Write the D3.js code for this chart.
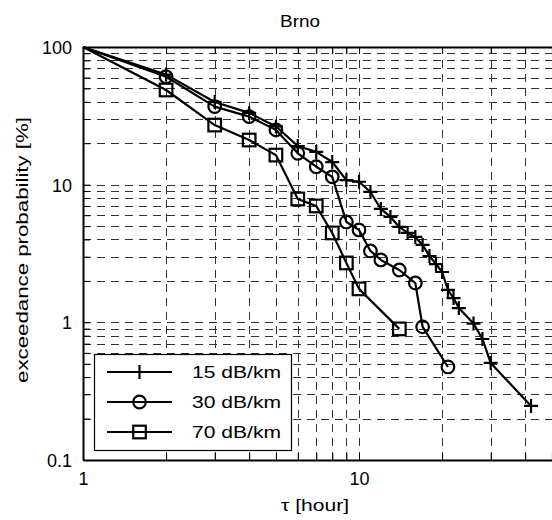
<!DOCTYPE html>
<html>
<head>
<meta charset="utf-8">
<script src="https://cdn.jsdelivr.net/npm/d3@7"></script>
<style>
  body { margin: 0; background: #fff; }
  svg text { font-family: "Liberation Sans", Arial, sans-serif; fill: #000; }
</style>
</head>
<body>
<svg id="chart" width="552" height="520"></svg>
<script>
// values (tau in hours, exceedance probability in %)
var tau15 = [1, 2, 3, 4, 5, 6, 7, 8, 9, 10, 11, 12, 13, 14, 15, 16, 17, 18, 19, 20, 21, 22, 23, 26, 28, 30, 42];
var p15 = [100, 63, 39.9, 33.2, 26.5, 19.1, 17.3, 14.6, 10.8, 10.5, 8.85, 6.66, 5.83, 4.93, 4.46, 4.17, 3.65, 3.03, 2.65, 2.32, 1.72, 1.5, 1.27, 0.98, 0.757, 0.507, 0.247];
var tau30 = [1, 2, 3, 4, 5, 6, 7, 8, 9, 10, 11, 12, 14, 16, 17, 21];
var p30 = [100, 60.8, 36.9, 31.2, 25, 16.9, 13.5, 11.4, 5.36, 4.69, 3.3, 2.84, 2.4, 1.93, 0.927, 0.474];
var tau70 = [1, 2, 3, 4, 5, 6, 7, 8, 9, 10, 14];
var p70 = [100, 48.7, 27.1, 21.1, 16.4, 7.87, 7.0, 4.46, 2.7, 1.75, 0.896];

var seriesNames = ["15 dB/km", "30 dB/km", "70 dB/km"];
var seriesMarkers = ["plus", "circle", "square"];
var xMajor = [1, 10];
var yMajor = [0.1, 1, 10, 100];
var title = "Brno";
var xLabel = "\u03c4 [hour]";
var yLabel = "exceedance probability [%]";

var svg = d3.select("#chart");
var mLeft = 83, mTop = 47, mBottom = 460, mRight = 635;

var x = d3.scaleLog().domain([1, 100]).range([mLeft, mRight]);
var y = d3.scaleLog().domain([0.1, 100]).range([mBottom, mTop]);

// all decade subdivisions 1..9 x 10^k
function logTicks(lo, hi) {
  var out = [];
  for (var e = Math.log10(lo); e < Math.log10(hi); e++) {
    for (var m = 1; m < 10; m++) out.push(m * Math.pow(10, e));
  }
  out.push(hi);
  return out.map(function(v) { return +v.toPrecision(6); });
}
var xTicks = logTicks(1, 100);
var yTicks = logTicks(0.1, 100);

// dashed grid at every tick
var grid = svg.append("g").attr("class", "grid")
  .attr("stroke", "#333").attr("stroke-width", 1).attr("stroke-dasharray", "8,6");
grid.selectAll("line.gx").data(xTicks.slice(1)).enter().append("line")
  .attr("x1", function(d) { return Math.round(x(d)) + 0.5; })
  .attr("x2", function(d) { return Math.round(x(d)) + 0.5; })
  .attr("y1", mBottom).attr("y2", mTop);
grid.selectAll("line.gy").data(yTicks.slice(1, -1)).enter().append("line")
  .attr("y1", function(d) { return Math.round(y(d)) + 0.5; })
  .attr("y2", function(d) { return Math.round(y(d)) + 0.5; })
  .attr("x1", mLeft).attr("x2", mRight);

// axes with inward ticks, MATLAB style
var xAxis = d3.axisBottom(x).tickValues(xTicks).tickSizeInner(-7).tickSizeOuter(0)
  .tickPadding(14).tickFormat(function(d) { return xMajor.indexOf(d) >= 0 ? d3.format("~g")(d) : ""; });
var gx = svg.append("g").attr("transform", "translate(0," + mBottom + ")").call(xAxis);
var xTop = d3.axisTop(x).tickValues(xTicks).tickSizeInner(-7).tickSizeOuter(0).tickFormat("");
var gxt = svg.append("g").attr("transform", "translate(0," + mTop + ")").call(xTop);

var yAxis = d3.axisLeft(y).tickValues(yTicks).tickSizeInner(-7).tickSizeOuter(0)
  .tickPadding(11).tickFormat(function(d) { return yMajor.indexOf(d) >= 0 ? d3.format("~g")(d) : ""; });
var gy = svg.append("g").attr("transform", "translate(" + mLeft + ",0)").call(yAxis);

[gx, gxt, gy].forEach(function(g) {
  g.select(".domain").attr("stroke", "#000").attr("stroke-width", 2);
  g.selectAll(".tick line").attr("stroke", "#000").attr("stroke-width", 1);
  g.selectAll(".tick text").attr("font-size", 18).style("font-family", "Liberation Sans, Arial, sans-serif");
});
gx.selectAll(".tick text").attr("dy", "0.6em");
gy.selectAll(".tick text").attr("dy", "0.36em");

// series
var series = [
  {tau: tau15, p: p15},
  {tau: tau30, p: p30},
  {tau: tau70, p: p70}
];
var line = d3.line().x(function(d) { return x(d[0]); }).y(function(d) { return y(d[1]); });

function drawMarker(g, type, cx, cy) {
  if (type == "plus") {
    g.append("path").attr("d", "M" + (cx - 7) + "," + cy + "H" + (cx + 7) + "M" + cx + "," + (cy - 7) + "V" + (cy + 7))
      .attr("stroke", "#000").attr("stroke-width", 2.2);
  } else if (type == "circle") {
    g.append("circle").attr("cx", cx).attr("cy", cy).attr("r", 6.3)
      .attr("fill", "none").attr("stroke", "#000").attr("stroke-width", 2.2);
  } else {
    g.append("rect").attr("x", cx - 6.3).attr("y", cy - 6.3).attr("width", 12.6).attr("height", 12.6)
      .attr("fill", "none").attr("stroke", "#000").attr("stroke-width", 2.2);
  }
}

series.forEach(function(s, i) {
  var pts = s.tau.map(function(t, j) { return [t, s.p[j]]; });
  var g = svg.append("g");
  g.append("path").attr("d", line(pts)).attr("fill", "none")
    .attr("stroke", "#000").attr("stroke-width", 2.2).attr("stroke-linejoin", "round");
  // the shared starting point at (1, 100) shows no marker in the reference
  pts.slice(1).forEach(function(d) { drawMarker(g, seriesMarkers[i], x(d[0]), y(d[1])); });
});

// legend
var lg = svg.append("g");
lg.append("rect").attr("x", 94.5).attr("y", 354.5).attr("width", 197).attr("height", 96)
  .attr("fill", "#fff").attr("stroke", "#000").attr("stroke-width", 1.2);
seriesNames.forEach(function(name, i) {
  var cy = 372 + i * 30;
  lg.append("line").attr("x1", 107).attr("x2", 172).attr("y1", cy).attr("y2", cy)
    .attr("stroke", "#000").attr("stroke-width", 2.2);
  drawMarker(lg, seriesMarkers[i], 139.5, cy);
  lg.append("text").attr("x", 192).attr("y", cy).attr("dy", "0.36em")
    .attr("font-size", 17).attr("textLength", 89).attr("lengthAdjust", "spacingAndGlyphs").text(name);
});

// labels
svg.append("text").attr("x", 300).attr("y", 27).attr("text-anchor", "middle")
  .attr("font-size", 17).attr("textLength", 40).attr("lengthAdjust", "spacingAndGlyphs").text(title);
svg.append("text").attr("x", 315).attr("y", 511).attr("text-anchor", "middle")
  .attr("font-size", 17).attr("textLength", 68).attr("lengthAdjust", "spacingAndGlyphs").text(xLabel);
svg.append("text").attr("transform", "translate(28," + 250 + ") rotate(-90)")
  .attr("text-anchor", "middle").attr("font-size", 17)
  .attr("textLength", 266).attr("lengthAdjust", "spacingAndGlyphs").text(yLabel);
</script>
</body>
</html>
